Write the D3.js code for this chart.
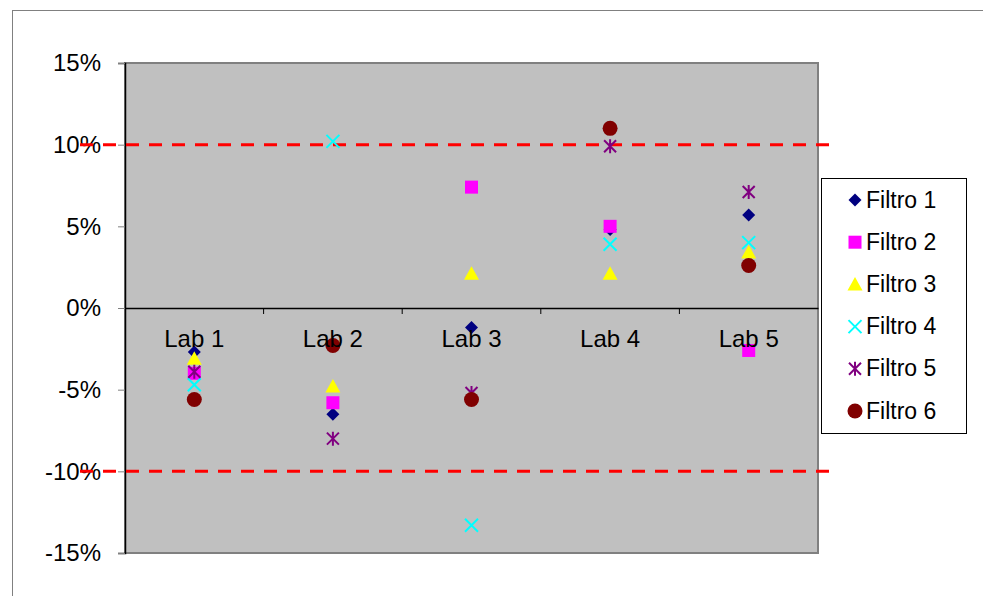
<!DOCTYPE html>
<html><head><meta charset="utf-8">
<script src="https://cdn.jsdelivr.net/npm/d3@7"></script>
<style>body{margin:0;background:#fff;font-family:"Liberation Sans",Arial,sans-serif}</style>
</head><body><svg id="c" width="983" height="596"></svg>
<script>
const categories = ["Lab 1","Lab 2","Lab 3","Lab 4","Lab 5"];
const seriesNames = ["Filtro 1","Filtro 2","Filtro 3","Filtro 4","Filtro 5","Filtro 6"];
const filtro1 = [-2.7, -6.5, -1.2, 4.8, 5.7];
const filtro2 = [-4.0, -5.8, 7.4, 5.0, -2.6];
const filtro3 = [-3.1, -4.8, 2.1, 2.1, 3.4];
const filtro4 = [-4.7, 10.2, -13.3, 3.9, 4.0];
const filtro5 = [-3.9, -8.0, -5.2, 9.9, 7.1];
const filtro6 = [-5.6, -2.3, -5.6, 11.0, 2.6];
const yTicks = [-15, -10, -5, 0, 5, 10, 15];
const limits = [10, -10];

const series = [filtro1, filtro2, filtro3, filtro4, filtro5, filtro6];
const colors = ["#000080","#FF00FF","#FFFF00","#00FFFF","#800080","#800000"];
const shapes = ["diamond","square","triangle","x","star","circle"];

const svg = d3.select("#c");
const L = 125, R = 818, T = 63, B = 553;
const x = d3.scaleBand().domain(categories).range([L, R]);
const y = d3.scaleLinear().domain([-15, 15]).range([B, T]);
const FONT = "Liberation Sans, Arial, sans-serif";

// chart area border
svg.append("rect").attr("x", 12.5).attr("y", 10.5).attr("width", 1000).attr("height", 700)
  .attr("fill", "#fff").attr("stroke", "#808080").attr("stroke-width", 1);

// plot area
svg.append("rect").attr("x", L).attr("y", T).attr("width", R - L).attr("height", B - T)
  .attr("fill", "#C0C0C0").attr("stroke", "#808080").attr("stroke-width", 2);

// y axis
const yAxis = d3.axisLeft(y).tickValues(yTicks).tickSize(7).tickPadding(17)
  .tickFormat(d => d + "%");
const gy = svg.append("g").attr("transform", `translate(${L},0)`).call(yAxis);
gy.select(".domain").attr("stroke", "#000").attr("stroke-width", 1.5);
gy.selectAll(".tick line").attr("stroke", "#808080");
gy.selectAll("text").attr("font-size", 24).attr("fill", "#000").attr("font-family", FONT);

// limit lines
svg.append("g").selectAll("line").data(limits).join("line")
  .attr("x1", 80).attr("x2", 832)
  .attr("y1", d => y(d)).attr("y2", d => y(d))
  .attr("stroke", "#FF0000").attr("stroke-width", 3).attr("stroke-dasharray", "13,10");

// markers
function drawMarker(g, shape, color) {
  const s = 6.5;
  if (shape === "diamond") {
    g.append("path").attr("d", `M0,${-s}L${s},0L0,${s}L${-s},0Z`).attr("fill", color);
  } else if (shape === "square") {
    g.append("rect").attr("x", -s).attr("y", -s).attr("width", 2*s).attr("height", 2*s).attr("fill", color);
  } else if (shape === "triangle") {
    g.append("path").attr("d", `M0,${-7.5}L7.5,6L-7.5,6Z`).attr("fill", color);
  } else if (shape === "x") {
    g.append("path").attr("d", `M-6.5,-6.5L6.5,6.5M-6.5,6.5L6.5,-6.5`).attr("stroke", color).attr("stroke-width", 2);
  } else if (shape === "star") {
    g.append("path").attr("d", `M-6,-6L6,6M-6,6L6,-6M0,-7L0,7`).attr("stroke", color).attr("stroke-width", 2);
  } else if (shape === "circle") {
    g.append("circle").attr("r", 7.5).attr("fill", color);
  }
}

const cx = d => x(d) + x.bandwidth() / 2;
series.forEach((vals, i) => {
  const g = svg.append("g");
  vals.forEach((v, j) => {
    const m = g.append("g").attr("transform", `translate(${cx(categories[j])},${y(v)})`);
    drawMarker(m, shapes[i], colors[i]);
  });
});

// x axis at zero
const xAxis = d3.axisBottom(x).tickSize(0).tickPadding(22);
const gx = svg.append("g").attr("transform", `translate(0,${y(0)})`).call(xAxis);
gx.select(".domain").attr("stroke", "#000").attr("stroke-width", 1.5);
gx.selectAll("text").attr("font-size", 24).attr("fill", "#000").attr("font-family", FONT);
svg.append("g").selectAll("line").data(categories.slice(1)).join("line")
  .attr("x1", d => x(d)).attr("x2", d => x(d))
  .attr("y1", y(0)).attr("y2", y(0) + 6).attr("stroke", "#000");

// legend
const lg = svg.append("g");
lg.append("rect").attr("x", 821.5).attr("y", 178.5).attr("width", 145).attr("height", 255)
  .attr("fill", "#fff").attr("stroke", "#000").attr("stroke-width", 1);
seriesNames.forEach((n, i) => {
  const yy = 200 + i * 42.2;
  const m = lg.append("g").attr("transform", `translate(855,${yy})`);
  drawMarker(m, shapes[i], colors[i]);
  lg.append("text").attr("x", 866).attr("y", yy + 7.5).text(n)
    .attr("font-size", 23).attr("fill", "#000").attr("font-family", FONT);
});
</script></body></html>
